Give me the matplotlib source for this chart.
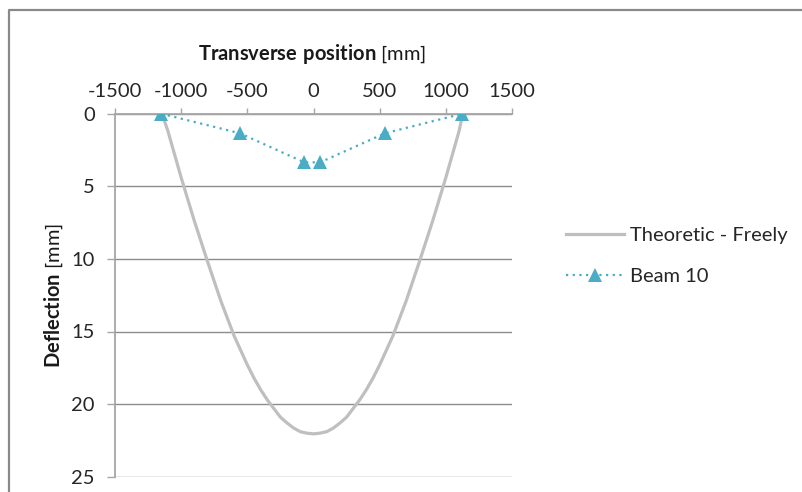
"""Deflexão transversal: curva teórica vs. medição da viga 10."""

import matplotlib

matplotlib.use("Agg")
import matplotlib.pyplot as plt
from matplotlib.lines import Line2D

# posições (mm) e deflexões (mm)
teorico_x = [-1145, -1100, -1000, -900, -800, -700, -600, -500, -450, -400,
             -350, -300, -250, -200, -150, -100, -50, 0, 50, 100, 150, 200,
             250, 300, 350, 400, 450, 500, 600, 700, 800, 900, 1000, 1100,
             1128]
teorico_y = [0.0, 1.2, 4.4, 7.4, 10.2, 12.9, 15.3, 17.3, 18.2, 19.0,
             19.7, 20.3, 20.9, 21.3, 21.65, 21.9, 22.0, 22.05, 22.0, 21.9,
             21.65, 21.3, 20.9, 20.3, 19.7, 19.0, 18.2, 17.3, 15.3, 12.9,
             10.2, 7.4, 4.4, 1.2, 0.0]

viga_x = [-1150, -555, -70, 50, 540, 1125]
viga_y = [0.0, 1.35, 3.35, 3.35, 1.35, 0.0]

x_ticks = [-1500, -1000, -500, 0, 500, 1000, 1500]
y_ticks = [0, 5, 10, 15, 20, 25]

plt.rcParams["font.family"] = ["Lato", "DejaVu Sans"]
plt.rcParams["mathtext.fontset"] = "custom"
plt.rcParams["mathtext.rm"] = "Lato"
plt.rcParams["mathtext.bf"] = "Lato:bold"
plt.rcParams["axes.unicode_minus"] = False

L, H = 803, 492
fig = plt.figure(figsize=(L / 100, H / 100), dpi=100)
ax = fig.add_axes([115 / L, (H - 476.7) / H, (512 - 115) / L, (476.7 - 113.7) / H])

tam = 14.5
cinza_eixo = "#A6A6A6"

ax.plot(teorico_x, teorico_y, color="#BFBFBF", lw=2.3,
        label="Theoretic - Freely", zorder=3, solid_joinstyle="round")
ax.plot(viga_x, viga_y, color="#4BACC6", lw=1.6, linestyle=(0, (1, 2)),
        marker="^", markersize=9.5, markeredgewidth=0,
        label="Beam 10", zorder=4)

ax.set_xlim(-1500, 1500)
ax.set_ylim(25, 0)
ax.set_xticks(x_ticks)
ax.set_yticks(y_ticks)
ax.xaxis.tick_top()
ax.tick_params(axis="x", direction="out", length=4.1, width=1,
               color=cinza_eixo, labelsize=tam, pad=6, labelcolor="#262626")
ax.tick_params(axis="y", direction="out", length=5.6, width=1,
               color=cinza_eixo, labelsize=tam, pad=9, labelcolor="#262626")

ax.grid(axis="y", color="#8C8C8C", lw=1)
ax.set_axisbelow(True)
for lado in ["right", "bottom"]:
    ax.spines[lado].set_visible(False)
for lado in ["left", "top"]:
    ax.spines[lado].set_color(cinza_eixo)
    ax.spines[lado].set_linewidth(1.3)

fig.text(312 / L, 1 - 60 / H, r"$\mathbf{Transverse\ position}$ [mm]",
         ha="center", va="baseline", fontsize=tam, color="#1a1a1a")
fig.text(60 / L, 1 - 295 / H, r"$\mathbf{Deflection}$ [mm]",
         rotation=90, rotation_mode="anchor", ha="center", va="baseline",
         fontsize=tam, color="#1a1a1a")

leg = ax.legend(loc="upper left", bbox_to_anchor=(566 / L, 1 - 227 / H),
                bbox_transform=fig.transFigure, frameon=False, fontsize=tam,
                handlelength=2.9, handletextpad=0.3, labelspacing=1.2,
                borderaxespad=0, borderpad=0)
for t in leg.get_texts():
    t.set_color("#262626")

# moldura externa do gráfico
fig.add_artist(Line2D([8.5 / L, 8.5 / L, 1.0], [0.0, 1 - 10 / H, 1 - 10 / H],
                      transform=fig.transFigure, color="#898989", lw=1.6))

fig.savefig("out.png", dpi=100)
